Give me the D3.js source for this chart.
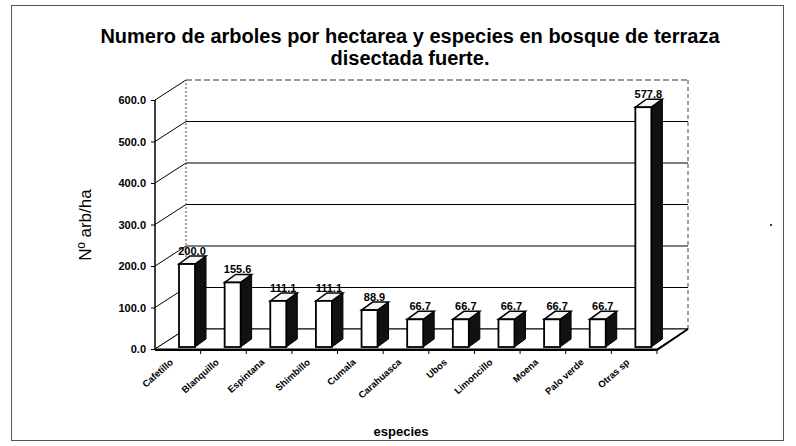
<!DOCTYPE html>
<html><head><meta charset="utf-8">
<script src="https://cdn.jsdelivr.net/npm/d3@7/dist/d3.min.js"></script>
<style>body{margin:0;background:#fff}svg{display:block}</style>
</head><body>
<script>
const categories = ["Cafetillo","Blanquillo","Espintana","Shimbillo","Cumala","Carahuasca","Ubos","Limoncillo","Moena","Palo verde","Otras sp"];
const values = [200.0,155.6,111.1,111.1,88.9,66.7,66.7,66.7,66.7,66.7,577.8];
const yTicks = [0,100,200,300,400,500,600];
const titleLines = ["Numero de arboles por hectarea y especies en bosque de terraza","disectada fuerte."];
const yLabel = "Nº arb/ha";
const xLabel = "especies";

const W = 796, H = 446;
const svg = d3.select("body").append("svg").attr("width",W).attr("height",H);
svg.append("rect").attr("x",11.5).attr("y",5.5).attr("width",772).attr("height",435)
  .attr("fill","none").attr("stroke","#555").attr("stroke-width",1);

const x0 = 155, x1 = 657;
const DX = 31, DY = -20;
const x = d3.scaleBand().domain(categories).range([x0,x1]).padding(0);
const y = d3.scaleLinear().domain([0,600]).range([349,100]);

const g = svg.append("g");
yTicks.forEach(t=>{
  const yy = y(t);
  g.append("line").attr("x1",x0).attr("y1",yy).attr("x2",x0+DX).attr("y2",yy+DY).attr("stroke","#000").attr("stroke-width",1);
  g.append("line").attr("x1",x0+DX).attr("y1",yy+DY).attr("x2",x1+DX).attr("y2",yy+DY)
    .attr("stroke","#000").attr("stroke-width",t===600?0.8:1.2).attr("stroke-dasharray",t===600?"6,3":null);
});
g.append("line").attr("x1",x0+DX).attr("y1",y(0)+DY).attr("x2",x0+DX).attr("y2",y(600)+DY).attr("stroke","#444").attr("stroke-dasharray","2,2");
g.append("line").attr("x1",x1+DX).attr("y1",y(0)+DY).attr("x2",x1+DX).attr("y2",y(600)+DY).attr("stroke","#444").attr("stroke-dasharray","4,3");
g.append("path").attr("d",`M${x0},${y(0)}L${x1},${y(0)}L${x1+DX},${y(0)+DY}L${x0+DX},${y(0)+DY}Z`)
  .attr("fill","#fff").attr("stroke","#000").attr("stroke-width",1);
g.append("line").attr("x1",x0).attr("y1",y(0)+1).attr("x2",x1).attr("y2",y(0)+1).attr("stroke","#000").attr("stroke-width",2);
g.append("line").attr("x1",x1).attr("y1",y(0)+1).attr("x2",x1+DX).attr("y2",y(0)+DY).attr("stroke","#000").attr("stroke-width",2);

g.append("line").attr("x1",x0).attr("y1",y(600)).attr("x2",x0).attr("y2",y(0)).attr("stroke","#000").attr("stroke-width",1.5);
const yAxis = d3.axisLeft(y).tickValues(yTicks).tickFormat(d3.format(".1f")).tickSize(4);
const ya = g.append("g").attr("transform",`translate(${x0},0)`).call(yAxis);
ya.select(".domain").remove();
ya.selectAll("text").attr("font-family","Arial, Liberation Sans, sans-serif").attr("font-weight","bold").attr("font-size",11).attr("fill","#000").attr("dx",-2);
ya.selectAll("line").attr("stroke","#000");

categories.forEach((c,i)=>{
  const xx = x(c)+x.bandwidth();
  g.append("line").attr("x1",xx).attr("y1",y(0)).attr("x2",xx).attr("y2",y(0)+5).attr("stroke","#000");
});

const bw = 16, bdx = 11, bdy = -8, off = 24;
categories.forEach((c,i)=>{
  const v = values[i];
  const bx = x(c)+off;
  const by0 = y(0)-2, by1 = y(v)-2;
  const bar = g.append("g");
  bar.append("path").attr("d",`M${bx+bw},${by0}L${bx+bw+bdx},${by0+bdy}L${bx+bw+bdx},${by1+bdy}L${bx+bw},${by1}Z`)
    .attr("fill","#111").attr("stroke","#000");
  bar.append("path").attr("d",`M${bx},${by1}L${bx+bw},${by1}L${bx+bw+bdx},${by1+bdy}L${bx+bdx},${by1+bdy}Z`)
    .attr("fill","#f4f4f4").attr("stroke","#000").attr("stroke-width",1.5);
  bar.append("rect").attr("x",bx).attr("y",by1).attr("width",bw).attr("height",by0-by1)
    .attr("fill","#fff").attr("stroke","#000").attr("stroke-width",1.8);
  g.append("text").attr("x",bx+bw/2+5).attr("y",by1+bdy-1).attr("text-anchor","middle")
    .attr("font-family","Arial, Liberation Sans, sans-serif").attr("font-weight","bold").attr("font-size",11)
    .text(v.toFixed(1));
  const lx = x(c)+x.bandwidth()/2 - 4, ly = y(0)+14;
  g.append("text").attr("transform",`translate(${lx},${ly}) rotate(-42)`).attr("text-anchor","end")
    .attr("font-family","Arial, Liberation Sans, sans-serif").attr("font-weight","bold").attr("font-size",9.5)
    .text(c);
});

const tt = svg.append("text").attr("text-anchor","middle").attr("font-family","Arial, Liberation Sans, sans-serif")
  .attr("font-weight","bold").attr("font-size",20);
titleLines.forEach((l,i)=>tt.append("tspan").attr("x",410).attr("y",43+i*22).text(l));

svg.append("text").attr("transform","translate(91,225) rotate(-90)").attr("text-anchor","middle")
  .attr("font-family","Arial, Liberation Sans, sans-serif").attr("font-size",17).text(yLabel);
svg.append("text").attr("x",401).attr("y",436).attr("text-anchor","middle")
  .attr("font-family","Arial, Liberation Sans, sans-serif").attr("font-weight","bold").attr("font-size",13).text(xLabel);
svg.append("circle").attr("cx",771).attr("cy",225).attr("r",1).attr("fill","#000");
</script>
</body></html>
